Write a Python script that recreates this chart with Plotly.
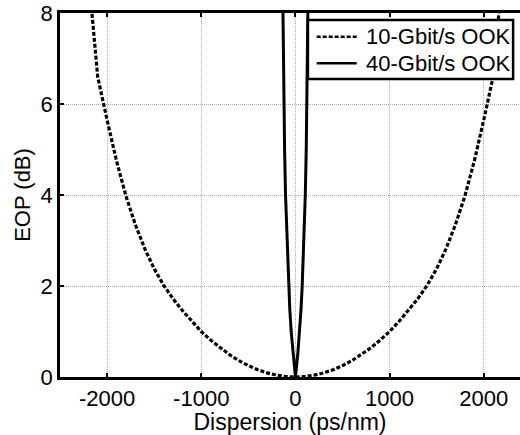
import plotly.graph_objects as go

# Eye-opening penalty versus accumulated dispersion (positive half, mirrored below)
disp_10g = [0, 100, 200, 300, 400, 500, 600, 700, 800, 900, 1000, 1100, 1200,
            1300, 1400, 1500, 1600, 1700, 1800, 1900, 2000, 2100, 2200]
eop_10g = [0, 0.01, 0.04, 0.09, 0.16, 0.25, 0.36, 0.49, 0.64, 0.81, 1.0, 1.22,
           1.46, 1.72, 2.02, 2.38, 2.82, 3.35, 3.98, 4.75, 5.65, 6.6, 8.9]

disp_40g = [0, 25, 45, 60, 72, 90, 105, 115, 122, 128, 133, 140]
eop_40g = [0, 0.5, 1.0, 1.5, 2.0, 3.0, 4.0, 5.0, 6.0, 7.0, 8.0, 9.4]

x_ticks = [-2000, -1000, 0, 1000, 2000]
y_ticks = [0, 2, 4, 6, 8]

series_names = ["10-Gbit/s OOK", "40-Gbit/s OOK"]
DOTTED = "4px,2px"


def mirrored(d, v):
    xs = [-x for x in reversed(d[1:])] + list(d)
    ys = list(reversed(v[1:])) + list(v)
    return xs, ys


x10, y10 = mirrored(disp_10g, eop_10g)
x40, y40 = mirrored(disp_40g, eop_40g)

FONT = "Liberation Sans, Arial, sans-serif"
FS = 22

fig = go.Figure()
fig.add_trace(go.Scatter(x=x10, y=y10, mode="lines", name=series_names[0],
                         line=dict(color="black", width=3.2, dash=DOTTED)))
fig.add_trace(go.Scatter(x=x40, y=y40, mode="lines", name=series_names[1],
                         line=dict(color="black", width=3)))

axis_common = dict(
    showline=True, linecolor="black", linewidth=2.5,
    showgrid=True, gridcolor="#a8a8a8", gridwidth=1, griddash="1px,1px",
    zeroline=False, ticks="inside", ticklen=4, tickwidth=2, tickcolor="black",
    tickfont=dict(family=FONT, size=FS, color="black"),
)

# Boxed legend in the upper-right corner of the plot area
lx0, lx1, ly0, ly1 = 0.539, 0.985, 0.819, 0.981
row_y = [0.935, 0.862]
sample_x = [0.558, 0.645]
shapes = [dict(type="rect", xref="paper", yref="paper", x0=lx0, x1=lx1,
               y0=ly0, y1=ly1, line=dict(color="black", width=2.5),
               fillcolor="white", layer="above")]
annotations = []
for name, ry, dash in zip(series_names, row_y, [DOTTED, "solid"]):
    shapes.append(dict(type="line", xref="paper", yref="paper",
                       x0=sample_x[0], x1=sample_x[1], y0=ry, y1=ry,
                       line=dict(color="black", width=2.5, dash=dash),
                       layer="above"))
    annotations.append(dict(xref="paper", yref="paper", x=0.661, y=ry,
                            xanchor="left", yanchor="middle", showarrow=False,
                            text=name, font=dict(family=FONT, size=FS,
                                                 color="black")))

fig.update_layout(
    width=520, height=435,
    margin=dict(l=60, r=0, t=13, b=58),
    paper_bgcolor="white", plot_bgcolor="white",
    font=dict(family=FONT, color="black"),
    showlegend=False,
    shapes=shapes,
    annotations=annotations,
    xaxis=dict(range=[-2500, 2385], tickvals=x_ticks,
               ticktext=[str(t) for t in x_ticks], mirror="ticks",
               title=dict(text="Dispersion (ps/nm)", standoff=1,
                          font=dict(family=FONT, size=23)),
               **axis_common),
    yaxis=dict(range=[0, 8], tickvals=y_ticks,
               title=dict(text="EOP (dB)", standoff=4,
                          font=dict(family=FONT, size=FS)),
               **axis_common),
)

fig.write_html("out.html")
